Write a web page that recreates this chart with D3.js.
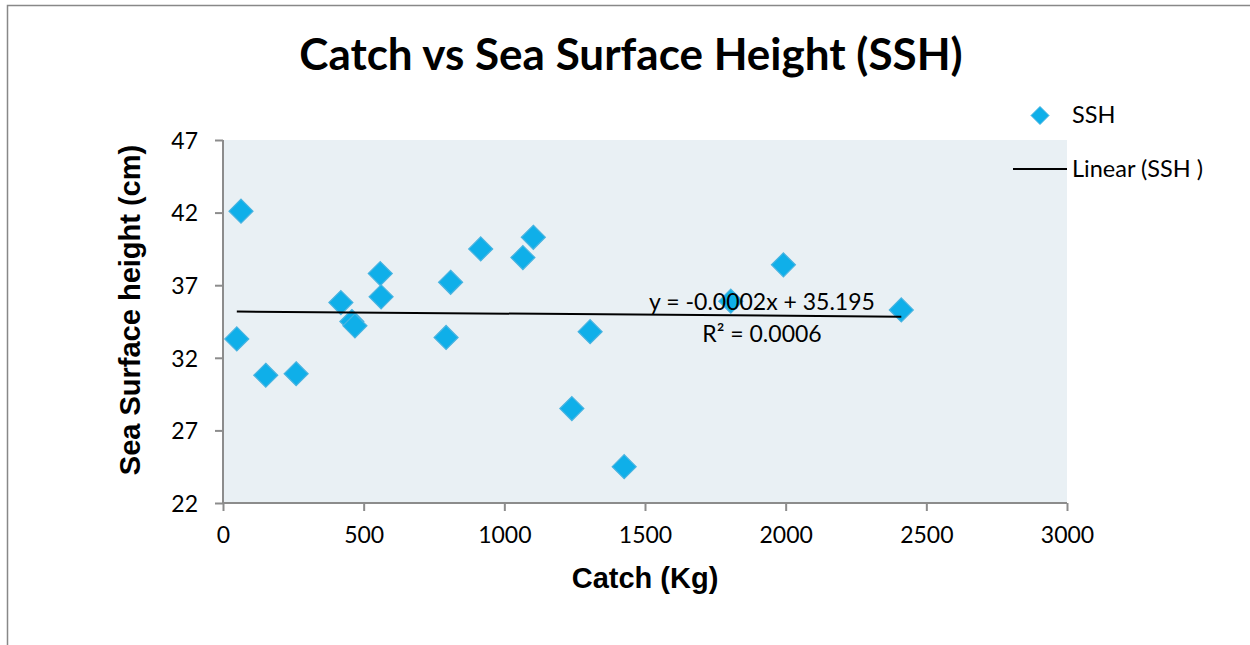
<!DOCTYPE html>
<html>
<head>
<meta charset="utf-8">
<script src="https://cdn.jsdelivr.net/npm/d3@7/dist/d3.min.js"></script>
<style>
html,body{margin:0;padding:0;background:#fff;}
svg{display:block;}
</style>
</head>
<body>
<svg id="chart" width="1250" height="645"></svg>
<script>
// ---- data ----
const catchKg = [64, 49, 152, 260, 419, 458, 469, 559, 562, 793, 809, 916, 1066, 1103, 1240, 1305, 1426, 1805, 1992, 2411];
const sshCm   = [42.1, 33.3, 30.8, 30.9, 35.8, 34.5, 34.2, 37.8, 36.2, 33.4, 37.2, 39.5, 38.9, 40.3, 28.5, 33.8, 24.5, 35.9, 38.4, 35.3];
const xTicks = [0, 500, 1000, 1500, 2000, 2500, 3000];
const yTicks = [22, 27, 32, 37, 42, 47];
const trendSlope = -0.00015;
const trendIntercept = 35.195;
const titleText = "Catch vs Sea Surface Height (SSH)";
const xTitle = "Catch (Kg)";
const yTitle = "Sea Surface height (cm)";
const eqText = "y = -0.0002x + 35.195";
const r2Text = "R² = 0.0006";
const legendLabels = ["SSH", "Linear (SSH )"];

// ---- layout ----
const svg = d3.select("#chart");
const plot = {left: 223, top: 140, right: 1067, bottom: 503};
const x = d3.scaleLinear().domain([0, 3000]).range([plot.left, plot.right]);
const y = d3.scaleLinear().domain([22, 47]).range([plot.bottom, plot.top]);
const uiFont = "Lato, 'Open Sans', sans-serif";
const boldFont = "'Liberation Sans', Arial, sans-serif";
const markerFill = "#0FAFE9";
const markerStroke = "#48B3E0";

// outer border (top and left only)
svg.append("path").attr("d", "M7.5,645 L7.5,5.5 L1250,5.5")
  .attr("fill", "none").attr("stroke", "#888").attr("stroke-width", 1.5);

// plot background
svg.append("rect").attr("x", plot.left).attr("y", plot.top)
  .attr("width", plot.right - plot.left).attr("height", plot.bottom - plot.top)
  .attr("fill", "#E9F0F4");

// axes
const axisColor = "#8C8C8C";
const xAxis = svg.append("g").attr("transform", `translate(0,${plot.bottom})`)
  .call(d3.axisBottom(x).tickValues(xTicks).tickSize(8).tickPadding(16).tickFormat(d3.format("d")));
const yAxis = svg.append("g").attr("transform", `translate(${plot.left},0)`)
  .call(d3.axisLeft(y).tickValues(yTicks).tickSize(8).tickPadding(17).tickFormat(d3.format("d")));
[xAxis, yAxis].forEach(g => {
  g.select(".domain").attr("stroke", axisColor).attr("stroke-width", 2);
  g.selectAll(".tick line").attr("stroke", axisColor).attr("stroke-width", 2);
  g.selectAll(".tick text").attr("fill", "#000").style("font-family", uiFont).style("font-size", "23px");
});
yAxis.selectAll(".tick text").attr("dy", "0.36em");
xAxis.selectAll(".tick text").attr("dy", "0.71em");
xAxis.select(".domain").attr("d", `M${plot.left},0H${plot.right}`);
yAxis.select(".domain").attr("d", `M0,${plot.bottom}V${plot.top}`);

// markers
const diamond = (cx, cy, r) => `M${cx},${cy - r}L${cx + r},${cy}L${cx},${cy + r}L${cx - r},${cy}Z`;
svg.append("g").selectAll("path").data(catchKg.map((c, i) => [c, sshCm[i]])).join("path")
  .attr("d", d => diamond(x(d[0]), y(d[1]), 12))
  .attr("fill", markerFill).attr("stroke", markerStroke).attr("stroke-width", 1.2);

// trend line
const xMin = d3.min(catchKg), xMax = d3.max(catchKg);
svg.append("line")
  .attr("x1", x(xMin)).attr("y1", y(trendIntercept + trendSlope * xMin))
  .attr("x2", x(xMax)).attr("y2", y(trendIntercept + trendSlope * xMax))
  .attr("stroke", "#000").attr("stroke-width", 2);

// equation
svg.append("text").attr("x", 762).attr("y", 310).attr("text-anchor", "middle")
  .style("font-family", uiFont).style("font-size", "23px").text(eqText);
svg.append("text").attr("x", 762).attr("y", 342).attr("text-anchor", "middle")
  .style("font-family", uiFont).style("font-size", "23px").text(r2Text);

// title
svg.append("text").attr("x", 631).attr("y", 70).attr("text-anchor", "middle")
  .style("font-family", uiFont).style("font-weight", "bold").style("font-size", "44px").text(titleText);

// axis titles
svg.append("text").attr("x", 645).attr("y", 588).attr("text-anchor", "middle")
  .style("font-family", boldFont).style("font-weight", "bold").style("font-size", "29px").text(xTitle);
svg.append("text").attr("transform", "translate(139.5,310) rotate(-90)").attr("text-anchor", "middle")
  .style("font-family", boldFont).style("font-weight", "bold").style("font-size", "29px").text(yTitle);

// legend
svg.append("path").attr("d", diamond(1040, 115.5, 9)).attr("fill", markerFill).attr("stroke", markerStroke).attr("stroke-width", 1);
svg.append("text").attr("x", 1072).attr("y", 123).style("font-family", uiFont).style("font-size", "23.5px").text(legendLabels[0]);
svg.append("line").attr("x1", 1013).attr("x2", 1067).attr("y1", 169).attr("y2", 169).attr("stroke", "#000").attr("stroke-width", 2);
svg.append("text").attr("x", 1072).attr("y", 177).style("font-family", uiFont).style("font-size", "23.5px").text(legendLabels[1]);
</script>
</body>
</html>
